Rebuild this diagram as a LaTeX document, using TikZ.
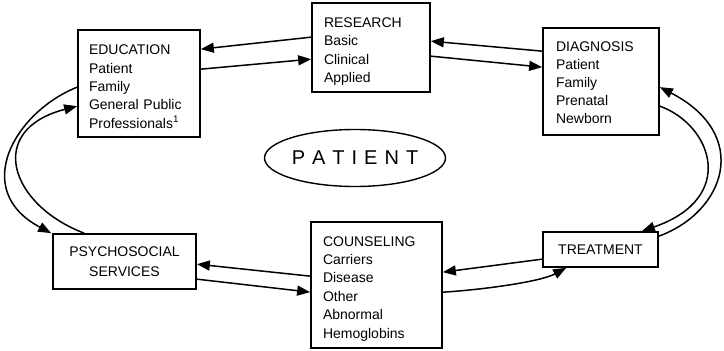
\documentclass[tikz,border=0pt]{standalone}
\usepackage{fontspec}
\setmainfont{Liberation Sans}
\usetikzlibrary{shapes.geometric,arrows.meta}
\begin{document}
\begin{tikzpicture}[x=1pt,y=-1pt,
  box/.style={draw,line width=1.7pt,inner ysep=0pt,font=\fontsize{14}{18.3}\selectfont},
  conn/.style={line width=1.5pt,-{Triangle[length=13pt,width=10pt]}}]
\fill[white] (0,0) rectangle (724,351);
\useasboundingbox (0,0) rectangle (724,351);

\node[box,align=left,text width=100pt,inner xsep=11pt,minimum height=107pt] (E) at (139,83.5)
  {\rule{0pt}{16pt}EDUCATION\\Patient\\Family\\General Public\\Professionals\textsuperscript{1}};
\node[box,align=left,text width=94pt,inner xsep=12pt,minimum height=89pt] (R) at (371,47.5)
  {\rule{0pt}{18pt}RESEARCH\\Basic\\Clinical\\Applied};
\node[box,align=left,text width=90pt,inner xsep=13pt,minimum height=107pt,font=\fontsize{14}{17.8}\selectfont] (D) at (601,81.5)
  {\rule{0pt}{12pt}DIAGNOSIS\\Patient\\Family\\Prenatal\\Newborn};
\node[box,align=center,text width=103pt,inner xsep=6pt,minimum height=35pt] (T) at (600.5,249.5)
  {TREATMENT};
\node[box,align=left,text width=107pt,inner xsep=12pt,minimum height=126pt,font=\fontsize{14}{18.4}\selectfont] (C) at (376.5,285)
  {\rule{0pt}{17pt}COUNSELING\\Carriers\\Disease\\Other\\Abnormal\\Hemoglobins};
\node[box,align=center,text width=131pt,inner xsep=6pt,minimum height=55pt,font=\fontsize{14}{20}\selectfont] (P) at (124.5,261.5)
  {PSYCHOSOCIAL\\SERVICES};
\node[ellipse,draw,line width=1.4pt,minimum width=181pt,minimum height=57pt,inner sep=0pt,font=\fontsize{20}{20}\selectfont] (PT) at (355,158)
  {P\kern7pt A\kern7pt T\kern7pt I\kern7pt E\kern7pt N\kern7pt T};

% Education <-> Research
\draw[conn] ([yshift=-35pt]R.north west) -- ([yshift=-20pt]E.north east);
\draw[conn] ([yshift=-40pt]E.north east) -- ([yshift=-57pt]R.north west);
% Research <-> Diagnosis
\draw[conn] ([yshift=-24pt]D.north west) -- ([yshift=-39pt]R.north east);
\draw[conn] ([yshift=-54pt]R.north east) -- ([yshift=-40pt]D.north west);
% Diagnosis <-> Treatment
\draw[conn] ([yshift=-79pt]D.north east) .. controls (712,125) and (738,198) .. ([xshift=-17pt]T.north east);
\draw[conn] ([yshift=-5pt]T.north east) .. controls (725,212) and (752,135) .. ([yshift=-60pt]D.north east);
% Treatment <-> Counseling
\draw[conn] ([yshift=-28pt]T.north west) -- ([yshift=-51pt]C.north east);
\draw[conn] ([yshift=-71pt]C.north east) .. controls (480,290) and (540,282) .. ([xshift=24pt]T.south west);
% Counseling <-> Psychosocial
\draw[conn] ([yshift=-55pt]C.north west) -- ([yshift=-31pt]P.north east);
\draw[conn] ([yshift=-46pt]P.north east) -- ([yshift=-71pt]C.north west);
% Psychosocial <-> Education
\draw[conn] ([yshift=-58pt]E.north west) .. controls (15,112) and (-30,190) .. ([xshift=-1pt]P.north west);
\draw[conn] ([xshift=32pt]P.north west) .. controls (10,205) and (-15,130) .. ([yshift=-77pt]E.north west);
\end{tikzpicture}
\end{document}
